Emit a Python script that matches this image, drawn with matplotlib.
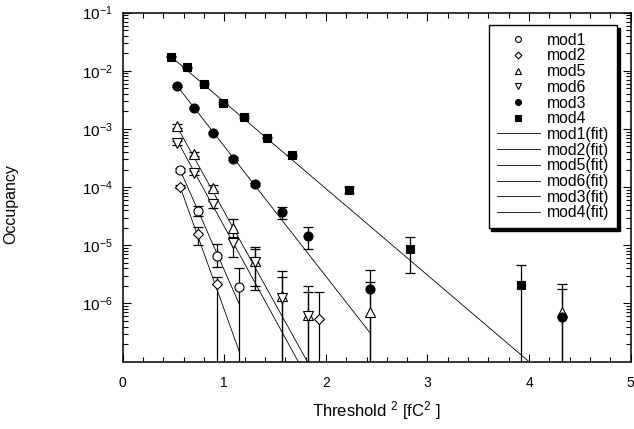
import matplotlib
matplotlib.use('Agg')
import matplotlib.pyplot as plt
import matplotlib.ticker as ticker
import numpy as np

plt.rcParams['font.family'] = ['Liberation Sans', 'DejaVu Sans']
plt.rcParams['mathtext.fontset'] = 'custom'
plt.rcParams['mathtext.rm'] = 'Liberation Sans'
plt.rcParams['mathtext.it'] = 'Liberation Sans:italic'
plt.rcParams['mathtext.default'] = 'regular'
plt.rcParams['axes.unicode_minus'] = False

'''
Occupancy vs threshold^2 for each module, with exponential fits.
lo / hi are the ends of the error bars (1e-9 = bar runs off the bottom)
'''

mod1_x = [0.564, 0.745, 0.925, 1.148]
mod1_y = [2.0e-4, 3.9e-5, 6.6e-6, 1.95e-6]
mod1_lo = [1.85e-4, 3.2e-5, 4.3e-6, 1e-9]
mod1_hi = [2.15e-4, 4.7e-5, 1.05e-5, 4.1e-6]

mod2_x = [0.564, 0.745, 0.925, 1.935]
mod2_y = [1.02e-4, 1.55e-5, 2.14e-6, 5.4e-7]
mod2_lo = [0.95e-4, 1.02e-5, 1e-9, 1e-9]
mod2_hi = [1.1e-4, 2.1e-5, 2.9e-6, 1.58e-6]

mod5_x = [0.538, 0.699, 0.889, 1.086, 1.306, 1.568, 1.827, 2.437, 4.327]
mod5_y = [1.13e-3, 3.7e-4, 9.8e-5, 2.0e-5, 5.4e-6, 1.32e-6, 6.4e-7, 7.2e-7, 7.2e-7]
mod5_lo = [1.05e-3, 3.4e-4, 8.7e-5, 1.4e-5, 2.0e-6, 1e-9, 1e-9, 1e-9, 1e-9]
mod5_hi = [1.2e-3, 4.0e-4, 1.1e-4, 2.8e-5, 9.5e-6, 3.6e-6, 2.0e-6, 2.3e-6, 1.8e-6]

mod6_x = [0.538, 0.699, 0.886, 1.086, 1.306, 1.568, 1.827]
mod6_y = [5.8e-4, 1.73e-4, 5.1e-5, 1.11e-5, 5.2e-6, 1.23e-6, 6.0e-7]
mod6_lo = [5.4e-4, 1.6e-4, 4.4e-5, 6.2e-6, 1.7e-6, 1e-9, 1e-9]
mod6_hi = [6.2e-4, 1.9e-4, 5.8e-5, 1.3e-5, 8.5e-6, 2.9e-6, 1.58e-6]

mod3_x = [0.538, 0.699, 0.889, 1.083, 1.302, 1.568, 1.827, 2.437, 4.327]
mod3_y = [5.4e-3, 2.27e-3, 8.6e-4, 3.1e-4, 1.12e-4, 3.8e-5, 1.45e-5, 1.76e-6, 5.9e-7]
mod3_lo = [5.2e-3, 2.2e-3, 8.3e-4, 2.95e-4, 1.05e-4, 2.84e-5, 8.5e-6, 1e-9, 1e-9]
mod3_hi = [5.6e-3, 2.35e-3, 8.9e-4, 3.25e-4, 1.2e-4, 4.6e-5, 2.04e-5, 3.8e-6, 2.2e-6]

mod4_x = [0.475, 0.630, 0.800, 0.987, 1.194, 1.420, 1.666, 2.227, 2.828, 3.92]
mod4_y = [1.75e-2, 1.15e-2, 6.0e-3, 2.8e-3, 1.6e-3, 7.1e-4, 3.6e-4, 9.0e-5, 8.7e-6, 2.1e-6]
mod4_lo = [1.7e-2, 1.12e-2, 5.8e-3, 2.7e-3, 1.55e-3, 6.9e-4, 3.45e-4, 7.8e-5, 3.3e-6, 1e-9]
mod4_hi = [1.8e-2, 1.18e-2, 6.2e-3, 2.9e-3, 1.65e-3, 7.3e-4, 3.75e-4, 1.0e-4, 1.4e-5, 4.5e-6]

# fits: log10(occ) = a + b * x, drawn over [x0, x1]
fit_a = {'mod1': -1.467, 'mod2': -1.249, 'mod5': -1.276, 'mod6': -1.488, 'mod3': -1.063, 'mod4': -1.049}
fit_b = {'mod1': -3.96, 'mod2': -4.86, 'mod5': -3.15, 'mod6': -3.19, 'mod3': -2.235, 'mod4': -1.488}
fit_x0 = {'mod1': 0.564, 'mod2': 0.564, 'mod5': 0.538, 'mod6': 0.538, 'mod3': 0.538, 'mod4': 0.475}
fit_x1 = {'mod1': 1.148, 'mod2': 1.148, 'mod5': 2.437, 'mod6': 1.827, 'mod3': 2.437, 'mod4': 4.327}

mods = ['mod1', 'mod2', 'mod5', 'mod6', 'mod3', 'mod4']
data = {'mod1': (mod1_x, mod1_y, mod1_lo, mod1_hi),
        'mod2': (mod2_x, mod2_y, mod2_lo, mod2_hi),
        'mod5': (mod5_x, mod5_y, mod5_lo, mod5_hi),
        'mod6': (mod6_x, mod6_y, mod6_lo, mod6_hi),
        'mod3': (mod3_x, mod3_y, mod3_lo, mod3_hi),
        'mod4': (mod4_x, mod4_y, mod4_lo, mod4_hi)}
# marker, size, face colour
style = {'mod1': ('o', 6.5, 'w'), 'mod2': ('D', 5.3, 'w'), 'mod5': ('^', 7, 'w'),
         'mod6': ('v', 7, 'w'), 'mod3': ('o', 6.5, 'k'), 'mod4': ('s', 6.3, 'k')}

fig = plt.figure(figsize=(6.34, 4.29), dpi=100)
ax = fig.add_axes([0.1935, 0.157, 0.8013, 0.8135])

handles = []
for m in mods:
    x, y, lo, hi = [np.array(v) for v in data[m]]
    ax.errorbar(x, y, yerr=[y - lo, hi - y], fmt='none', ecolor='k',
                elinewidth=0.9, capsize=3.5, capthick=0.9, zorder=2)
    mk, ms, fc = style[m]
    h, = ax.plot(x, y, ls='none', marker=mk, ms=ms, mfc=fc, mec='k', mew=0.8,
                 zorder=3, label=m)
    handles.append(h)

for m in mods:
    xf = np.linspace(fit_x0[m], fit_x1[m], 50)
    yf = 10 ** (fit_a[m] + fit_b[m] * xf)
    h, = ax.plot(xf, yf, color='k', lw=0.6, zorder=1, label=m + '(fit)')
    handles.append(h)

ax.set_yscale('log')
ax.set_xlim(0, 5)
ax.set_ylim(1e-7, 1e-1)

ax.xaxis.set_major_locator(ticker.MultipleLocator(1))
ax.xaxis.set_minor_locator(ticker.MultipleLocator(0.2))
ax.yaxis.set_major_locator(ticker.FixedLocator([1e-6, 1e-5, 1e-4, 1e-3, 1e-2, 1e-1]))
ax.yaxis.set_major_formatter(ticker.LogFormatterSciNotation())
ax.yaxis.set_minor_locator(ticker.LogLocator(base=10, subs=np.arange(2, 10), numticks=20))
ax.yaxis.set_minor_formatter(ticker.NullFormatter())

ax.tick_params(which='both', direction='in', top=True, right=True, width=0.8)
ax.tick_params(which='major', length=6)
ax.tick_params(which='minor', length=3.5)
ax.tick_params(axis='x', which='major', pad=10, labelsize=10)
ax.tick_params(axis='y', which='major', pad=7, labelsize=11)
for s in ax.spines.values():
    s.set_linewidth(1.1)

ax.set_xlabel('Threshold $^{2}$ [fC$^{2}$ ]', fontsize=12, labelpad=7)
ax.set_ylabel('Occupancy', fontsize=11.5)
ax.yaxis.set_label_coords(-0.206, 0.452)

leg = ax.legend(handles=handles, loc='upper right', bbox_to_anchor=(0.973, 0.965),
                borderaxespad=0, fontsize=11.3, fancybox=False, framealpha=1,
                edgecolor='k', shadow={'color': 'k', 'alpha': 1}, numpoints=1,
                handlelength=2.75, handletextpad=0.45, labelspacing=0.045,
                borderpad=0.5, markerscale=0.65)
leg.get_frame().set_linewidth(1.0)

plt.savefig('out.png', dpi=100)
plt.close()
